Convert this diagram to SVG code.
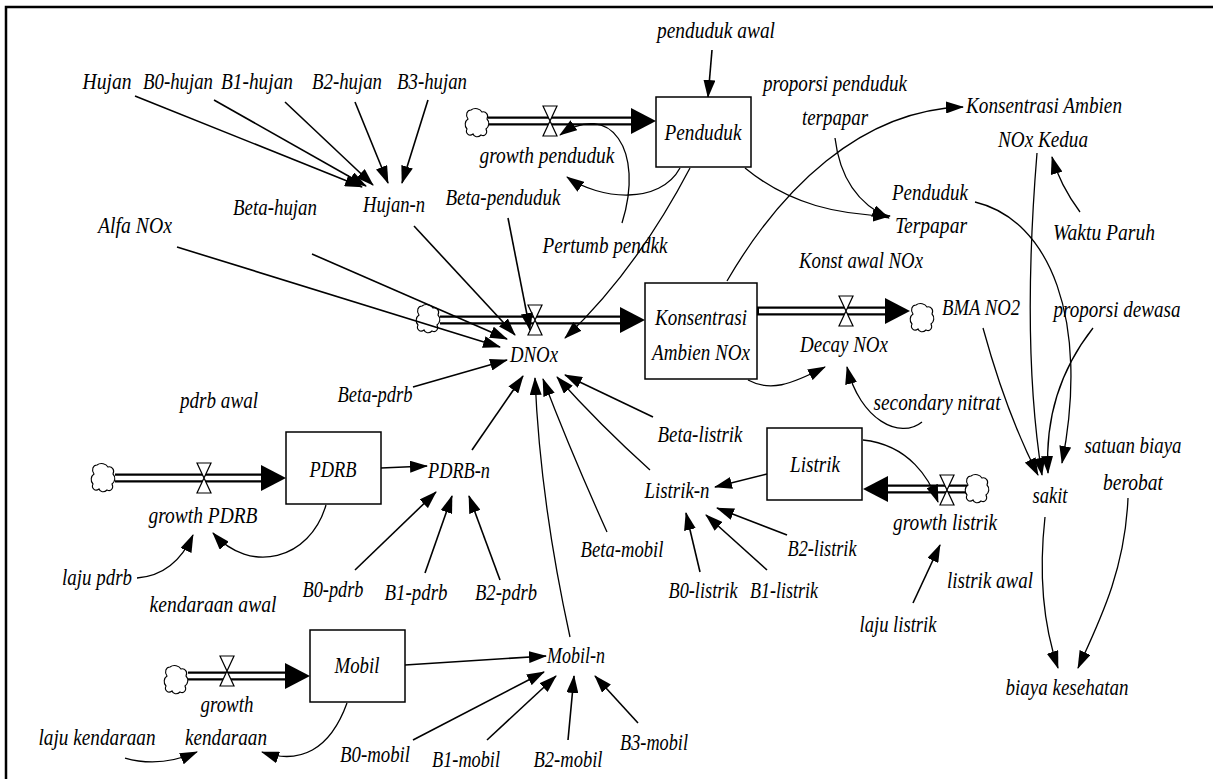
<svg xmlns="http://www.w3.org/2000/svg" width="1213" height="779" viewBox="0 0 1213 779">
<style>
text{font-family:"Liberation Serif","Times New Roman",serif;font-style:italic;font-size:22.5px;fill:#000;text-anchor:middle}
.c{fill:none;stroke:#000;stroke-width:1.6;marker-end:url(#ah)}
.cv{fill:none;stroke:#000;stroke-width:1.3;marker-end:url(#ah)}
.box{fill:#fff;stroke:#000;stroke-width:1.5}
.po{stroke:#000;stroke-width:9;fill:none}
.pi{stroke:#fff;stroke-width:4.5;fill:none}
.valve{fill:#fff;stroke:#000;stroke-width:1.2}
.cloud{fill:#fff;stroke:#000;stroke-width:1.1}
</style>
<defs>
<marker id="ah" markerWidth="18" markerHeight="12" refX="17" refY="6" orient="auto" markerUnits="userSpaceOnUse"><path d="M0,0 L18,6 L0,12 z" fill="#000"/></marker>
<path id="cl" d="M-6,-13 C-2,-16 3,-14 5,-11 C9,-12 12,-8 10,-4 C13,-1 12,4 9,6 C11,10 8,14 4,12 C1,15 -3,14 -4,11 C-8,14 -12,10 -10,6 C-13,3 -12,-2 -9,-4 C-12,-8 -10,-13 -6,-13 Z"/>
<path id="vl" d="M-7,-15 L7,-15 L-7,15 L7,15 Z"/>
</defs>
<rect width="1213" height="779" fill="#fff"/>
<path d="M6,779 L6,7 L1213,7" fill="none" stroke="#000" stroke-width="2.5"/>

<g id="flows">
<line class="po" x1="488" y1="121" x2="634" y2="121"/><line class="pi" x1="486" y1="121" x2="636" y2="121"/>
<polygon points="631,108 656,121 631,134"/>
<use href="#cl" x="477" y="123" class="cloud"/>
<use href="#vl" x="550" y="121" class="valve"/>
<line class="po" x1="440" y1="320" x2="622" y2="320"/><line class="pi" x1="438" y1="320" x2="624" y2="320"/>
<polygon points="620,307 645,320 620,333"/>
<use href="#cl" x="428" y="319" class="cloud"/>
<use href="#vl" x="535" y="320" class="valve"/>
<line class="po" x1="757" y1="311" x2="888" y2="311"/><line class="pi" x1="759" y1="311" x2="890" y2="311"/>
<polygon points="885,298 910,311 885,324"/>
<use href="#cl" x="922" y="318" class="cloud"/>
<use href="#vl" x="846" y="311" class="valve"/>
<line class="po" x1="115" y1="478" x2="263" y2="478"/><line class="pi" x1="113" y1="478" x2="265" y2="478"/>
<polygon points="261,465 286,478 261,491"/>
<use href="#cl" x="103" y="478" class="cloud"/>
<use href="#vl" x="204" y="478" class="valve"/>
<line class="po" x1="188" y1="676" x2="288" y2="676"/><line class="pi" x1="186" y1="676" x2="290" y2="676"/>
<polygon points="285,663 310,676 285,689"/>
<use href="#cl" x="176" y="680" class="cloud"/>
<use href="#vl" x="227" y="671" class="valve"/>
<line class="po" x1="967" y1="489" x2="885" y2="489"/><line class="pi" x1="969" y1="489" x2="883" y2="489"/>
<polygon points="888,476 863,489 888,502"/>
<use href="#cl" x="977" y="489" class="cloud"/>
<use href="#vl" x="947" y="490" class="valve"/>
</g>

<g id="connectors">
<path class="c" d="M135,96 L362,187"/>
<path class="c" d="M214,100 L366,186"/>
<path class="c" d="M285,102 L373,185"/>
<path class="c" d="M355,102 L388,183"/>
<path class="c" d="M428,100 L402,183"/>
<path class="c" d="M712,50 L708,97"/>
<path class="c" d="M414,226 L515,335"/>
<path class="c" d="M312,254 L507,339"/>
<path class="c" d="M177,247 L500,347"/>
<path class="c" d="M508,218 L530,330"/>
<path class="cv" d="M690,168 Q636,271 565,338"/>
<path class="c" d="M413,387 L507,360"/>
<path class="c" d="M381,468 L427,466"/>
<path class="c" d="M472,450 L523,376"/>
<path class="cv" d="M570,637 Q540,500 535,378"/>
<path class="cv" d="M607,532 Q570,450 543,379"/>
<path class="cv" d="M650,470 Q600,425 557,377"/>
<path class="c" d="M653,417 L565,375"/>
<path class="c" d="M767,474 L715,487"/>
<path class="c" d="M700,572 L686,513"/>
<path class="c" d="M767,570 L706,515"/>
<path class="c" d="M787,535 L717,508"/>
<path class="c" d="M355,570 L436,492"/>
<path class="c" d="M425,573 L452,496"/>
<path class="c" d="M500,580 L469,496"/>
<path class="c" d="M405,665 L546,656"/>
<path class="c" d="M413,740 L544,672"/>
<path class="c" d="M487,740 L556,676"/>
<path class="c" d="M568,740 L574,676"/>
<path class="c" d="M638,723 L595,676"/>
<path class="cv" d="M137,578 Q175,575 193,535"/>
<path class="cv" d="M326,505 C310,560 250,575 213,533"/>
<path class="cv" d="M125,758 Q160,768 197,752"/>
<path class="cv" d="M347,703 C330,750 300,765 262,752"/>
<path class="cv" d="M622,223 C645,150 610,100 560,135"/>
<path class="cv" d="M680,168 C660,205 600,200 567,177"/>
<path class="cv" d="M745,168 C790,205 840,215 890,216"/>
<path class="cv" d="M835,138 C840,180 860,205 889,218"/>
<path class="cv" d="M727,281 C780,190 860,110 963,107"/>
<path class="cv" d="M1080,212 Q1060,185 1052,157"/>
<path class="cv" d="M1037,153 C1025,300 1030,400 1042,475"/>
<path class="cv" d="M975,202 C1050,220 1090,320 1062,463"/>
<path class="cv" d="M983,328 C1000,390 1020,440 1038,475"/>
<path class="cv" d="M1093,328 C1060,370 1045,420 1048,473"/>
<path class="cv" d="M1045,517 C1038,580 1045,630 1058,668"/>
<path class="cv" d="M1128,498 C1125,570 1100,620 1078,668"/>
<path class="cv" d="M922,422 C900,440 860,420 847,367"/>
<path class="cv" d="M748,380 C770,392 790,385 825,367"/>
<path class="cv" d="M863,440 C910,445 930,480 938,502"/>
<path class="c" d="M913,603 L940,545"/>
</g>

<g id="stock-penduduk"><rect class="box" x="656" y="97" width="95" height="70"/><text x="703" y="140" textLength="77" lengthAdjust="spacingAndGlyphs">Penduduk</text></g>
<g id="stock-konsentrasi"><rect class="box" x="645" y="283" width="112" height="96"/><text x="701" y="325" textLength="92" lengthAdjust="spacingAndGlyphs">Konsentrasi</text><text x="701" y="360" textLength="98" lengthAdjust="spacingAndGlyphs">Ambien NOx</text></g>
<g id="stock-pdrb"><rect class="box" x="286" y="432" width="95" height="72"/><text x="333" y="477" textLength="47" lengthAdjust="spacingAndGlyphs">PDRB</text></g>
<g id="stock-listrik"><rect class="box" x="767" y="428" width="95" height="72"/><text x="815" y="472" textLength="50" lengthAdjust="spacingAndGlyphs">Listrik</text></g>
<g id="stock-mobil"><rect class="box" x="310" y="630" width="95" height="72"/><text x="357" y="673" textLength="45" lengthAdjust="spacingAndGlyphs">Mobil</text></g>

<g id="n-hujan"><text x="107" y="89" textLength="49" lengthAdjust="spacingAndGlyphs">Hujan</text></g>
<g id="n-b0hujan"><text x="178" y="89" textLength="70" lengthAdjust="spacingAndGlyphs">B0-hujan</text></g>
<g id="n-b1hujan"><text x="257" y="89" textLength="72" lengthAdjust="spacingAndGlyphs">B1-hujan</text></g>
<g id="n-b2hujan"><text x="347" y="89" textLength="70" lengthAdjust="spacingAndGlyphs">B2-hujan</text></g>
<g id="n-b3hujan"><text x="432" y="89" textLength="70" lengthAdjust="spacingAndGlyphs">B3-hujan</text></g>
<g id="n-pendawal"><text x="716" y="38" textLength="118" lengthAdjust="spacingAndGlyphs">penduduk awal</text></g>
<g id="n-proppend"><text x="835" y="91" textLength="144" lengthAdjust="spacingAndGlyphs">proporsi penduduk</text><text x="835" y="125" textLength="66" lengthAdjust="spacingAndGlyphs">terpapar</text></g>
<g id="n-kedua"><text x="1044" y="113" textLength="156" lengthAdjust="spacingAndGlyphs">Konsentrasi Ambien</text><text x="1043" y="147" textLength="90" lengthAdjust="spacingAndGlyphs">NOx Kedua</text></g>
<g id="n-growthpend"><text x="547" y="163" textLength="135" lengthAdjust="spacingAndGlyphs">growth penduduk</text></g>
<g id="n-hujann"><text x="394" y="212" textLength="62" lengthAdjust="spacingAndGlyphs">Hujan-n</text></g>
<g id="n-betahujan"><text x="275" y="215" textLength="84" lengthAdjust="spacingAndGlyphs">Beta-hujan</text></g>
<g id="n-betapend"><text x="503" y="205" textLength="115" lengthAdjust="spacingAndGlyphs">Beta-penduduk</text></g>
<g id="n-alfa"><text x="135" y="233" textLength="74" lengthAdjust="spacingAndGlyphs">Alfa NOx</text></g>
<g id="n-pertumb"><text x="605" y="253" textLength="125" lengthAdjust="spacingAndGlyphs">Pertumb pendkk</text></g>
<g id="n-pendterpapar"><text x="930" y="200" textLength="76" lengthAdjust="spacingAndGlyphs">Penduduk</text><text x="931" y="233" textLength="72" lengthAdjust="spacingAndGlyphs">Terpapar</text></g>
<g id="n-waktu"><text x="1104" y="240" textLength="102" lengthAdjust="spacingAndGlyphs">Waktu Paruh</text></g>
<g id="n-konstawal"><text x="861" y="268" textLength="124" lengthAdjust="spacingAndGlyphs">Konst awal NOx</text></g>
<g id="n-dnox"><text x="534" y="362" textLength="48" lengthAdjust="spacingAndGlyphs">DNOx</text></g>
<g id="n-decay"><text x="844" y="352" textLength="88" lengthAdjust="spacingAndGlyphs">Decay NOx</text></g>
<g id="n-bma"><text x="981" y="315" textLength="78" lengthAdjust="spacingAndGlyphs">BMA NO2</text></g>
<g id="n-propdewasa"><text x="1117" y="317" textLength="127" lengthAdjust="spacingAndGlyphs">proporsi dewasa</text></g>
<g id="n-betapdrb"><text x="375" y="402" textLength="75" lengthAdjust="spacingAndGlyphs">Beta-pdrb</text></g>
<g id="n-pdrbawal"><text x="219" y="408" textLength="78" lengthAdjust="spacingAndGlyphs">pdrb awal</text></g>
<g id="n-secnitrat"><text x="937" y="410" textLength="127" lengthAdjust="spacingAndGlyphs">secondary nitrat</text></g>
<g id="n-betalistrik"><text x="700" y="442" textLength="85" lengthAdjust="spacingAndGlyphs">Beta-listrik</text></g>
<g id="n-satuan"><text x="1133" y="453" textLength="97" lengthAdjust="spacingAndGlyphs">satuan biaya</text><text x="1133" y="490" textLength="60" lengthAdjust="spacingAndGlyphs">berobat</text></g>
<g id="n-pdrbn"><text x="459" y="478" textLength="62" lengthAdjust="spacingAndGlyphs">PDRB-n</text></g>
<g id="n-listrikn"><text x="677" y="498" textLength="65" lengthAdjust="spacingAndGlyphs">Listrik-n</text></g>
<g id="n-sakit"><text x="1050" y="503" textLength="35" lengthAdjust="spacingAndGlyphs">sakit</text></g>
<g id="n-growthpdrb"><text x="203" y="523" textLength="109" lengthAdjust="spacingAndGlyphs">growth PDRB</text></g>
<g id="n-growthlistrik"><text x="945" y="530" textLength="104" lengthAdjust="spacingAndGlyphs">growth listrik</text></g>
<g id="n-betamobil"><text x="622" y="557" textLength="83" lengthAdjust="spacingAndGlyphs">Beta-mobil</text></g>
<g id="n-b2listrik"><text x="822" y="556" textLength="69" lengthAdjust="spacingAndGlyphs">B2-listrik</text></g>
<g id="n-lajupdrb"><text x="97" y="585" textLength="70" lengthAdjust="spacingAndGlyphs">laju pdrb</text></g>
<g id="n-listrikawal"><text x="990" y="588" textLength="86" lengthAdjust="spacingAndGlyphs">listrik awal</text></g>
<g id="n-b0pdrb"><text x="333" y="597" textLength="61" lengthAdjust="spacingAndGlyphs">B0-pdrb</text></g>
<g id="n-b1pdrb"><text x="416" y="600" textLength="63" lengthAdjust="spacingAndGlyphs">B1-pdrb</text></g>
<g id="n-b2pdrb"><text x="506" y="600" textLength="62" lengthAdjust="spacingAndGlyphs">B2-pdrb</text></g>
<g id="n-b0listrik"><text x="703" y="598" textLength="69" lengthAdjust="spacingAndGlyphs">B0-listrik</text></g>
<g id="n-b1listrik"><text x="784" y="598" textLength="68" lengthAdjust="spacingAndGlyphs">B1-listrik</text></g>
<g id="n-kendawal"><text x="213" y="612" textLength="127" lengthAdjust="spacingAndGlyphs">kendaraan awal</text></g>
<g id="n-lajulistrik"><text x="898" y="632" textLength="77" lengthAdjust="spacingAndGlyphs">laju listrik</text></g>
<g id="n-mobiln"><text x="576" y="663" textLength="58" lengthAdjust="spacingAndGlyphs">Mobil-n</text></g>
<g id="n-biaya"><text x="1067" y="695" textLength="123" lengthAdjust="spacingAndGlyphs">biaya kesehatan</text></g>
<g id="n-growthkend"><text x="227" y="712" textLength="53" lengthAdjust="spacingAndGlyphs">growth</text><text x="226" y="745" textLength="82" lengthAdjust="spacingAndGlyphs">kendaraan</text></g>
<g id="n-lajukend"><text x="97" y="745" textLength="117" lengthAdjust="spacingAndGlyphs">laju kendaraan</text></g>
<g id="n-b3mobil"><text x="654" y="750" textLength="68" lengthAdjust="spacingAndGlyphs">B3-mobil</text></g>
<g id="n-b0mobil"><text x="375" y="762" textLength="70" lengthAdjust="spacingAndGlyphs">B0-mobil</text></g>
<g id="n-b1mobil"><text x="466" y="767" textLength="68" lengthAdjust="spacingAndGlyphs">B1-mobil</text></g>
<g id="n-b2mobil"><text x="568" y="767" textLength="69" lengthAdjust="spacingAndGlyphs">B2-mobil</text></g>
</svg>
